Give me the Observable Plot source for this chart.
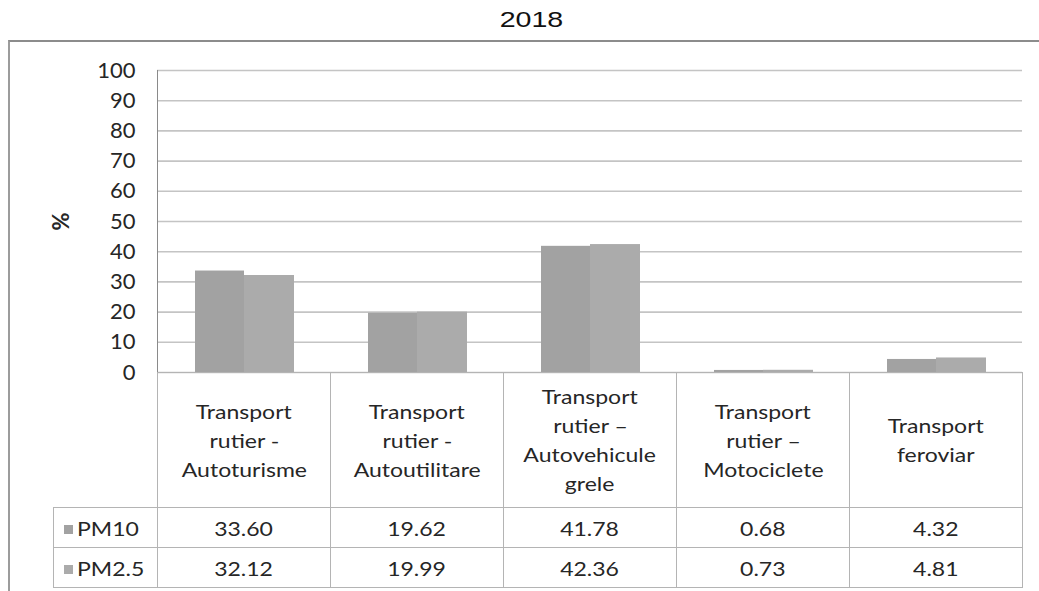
<!DOCTYPE html>
<html><head><meta charset="utf-8">
<script src="https://cdn.jsdelivr.net/npm/d3@7"></script>
<script src="https://cdn.jsdelivr.net/npm/@observablehq/plot@0.6"></script>
<style>
body{margin:0;background:#fff;font-family:Lato,"Open Sans",sans-serif;color:#262626;}
#wrap{position:relative;width:1039px;height:591px;overflow:hidden;background:#fff;}
#title{position:absolute;left:0;width:1062px;top:7px;text-align:center;font:22px "Liberation Sans",Arial,sans-serif;color:#111;}
#title span{display:inline-block;transform:scaleX(1.3);}
#frame{position:absolute;left:8px;top:40px;width:1100px;height:600px;border-left:2px solid #9c9c9c;border-top:2px solid #8c8c8c;}
#chart{position:absolute;left:0;top:41px;}
#tbl{position:absolute;left:53px;top:372px;border-collapse:collapse;table-layout:fixed;font-size:20px;}
#tbl td{border:1px solid #b4b4b4;text-align:center;padding:0;}
#tbl td.blank{border:none;}
#tbl tr.hdr td{height:134px;line-height:29px;vertical-align:middle;}
#tbl tr.val td{height:39px;}
#tbl .s{display:inline-block;transform:scaleX(1.15);}
#tbl td.leg{text-align:left;padding-left:10px;white-space:nowrap;}
#tbl td.leg .sw{display:inline-block;width:9px;height:9px;margin-right:4px;vertical-align:middle;position:relative;top:-1px;}
#tbl td.leg .s{transform-origin:left center;}
</style>
</head><body>
<div id="wrap">
  <div id="title"></div>
  <div id="frame"></div>
  <div id="chart"></div>
  <table id="tbl"></table>
</div>
<script>
const title = "2018";
const categories = [
  "Transport rutier - Autoturisme",
  "Transport rutier - Autoutilitare",
  "Transport rutier – Autovehicule grele",
  "Transport rutier – Motociclete",
  "Transport feroviar"
];
const categoryLines = [
  ["Transport", "rutier -", "Autoturisme"],
  ["Transport", "rutier -", "Autoutilitare"],
  ["Transport", "rutier –", "Autovehicule", "grele"],
  ["Transport", "rutier –", "Motociclete"],
  ["Transport", "feroviar"]
];
const seriesNames = ["PM10", "PM2.5"];
const pm10 = [33.60, 19.62, 41.78, 0.68, 4.32];
const pm25 = [32.12, 19.99, 42.36, 0.73, 4.81];
const yTicks = [0, 10, 20, 30, 40, 50, 60, 70, 80, 90, 100];
const yLabel = "%";
const colors = ["#a2a2a2", "#ababab"];

document.getElementById("title").innerHTML = `<span>${title}</span>`;

const rows = categories.map((c, i) => ({cat: c, pm10: pm10[i], pm25: pm25[i]}));

const chart = Plot.plot({
  width: 1039,
  height: 346,
  marginTop: 29,
  marginBottom: 15,
  marginLeft: 157,
  marginRight: 17,
  style: {fontFamily: "Lato, 'Open Sans', sans-serif", color: "#262626", background: "transparent"},
  x: {type: "band", domain: categories, padding: 0, axis: null},
  y: {domain: [0, 100]},
  marks: [
    Plot.gridY(yTicks, {stroke: "#c4c4c4", strokeOpacity: 1, strokeWidth: 1.6}),
    Plot.barY(rows, {x: "cat", y: "pm10", fill: colors[0], insetLeft: 38, insetRight: 86}),
    Plot.barY(rows, {x: "cat", y: "pm25", fill: colors[1], insetLeft: 87, insetRight: 36}),
    Plot.frame({anchor: "left", stroke: "#8a8a8a"}),
    Plot.axisY(yTicks, {tickSize: 0, tickPadding: 22, fontSize: 22, label: yLabel, labelAnchor: "center", labelOffset: 104, labelArrow: "none"})
  ]
});
d3.select(chart).selectAll("g[aria-label='y-axis label'] text")
  .attr("font-size", 22).attr("font-weight", "bold");
document.getElementById("chart").appendChild(chart);

// data table below the chart
const tbl = document.getElementById("tbl");
let html = `<colgroup><col style="width:104px">${categories.map(() => '<col style="width:173px">').join("")}</colgroup>`;
html += `<tr class="hdr"><td class="blank"></td>${categoryLines.map(ls => `<td>${ls.map(l => `<span class="s">${l}</span>`).join("<br>")}</td>`).join("")}</tr>`;
[pm10, pm25].forEach((vals, si) => {
  html += `<tr class="val"><td class="leg"><span class="sw" style="background:${colors[si]}"></span><span class="s">${seriesNames[si]}</span></td>${vals.map(v => `<td><span class="s">${v.toFixed(2)}</span></td>`).join("")}</tr>`;
});
tbl.innerHTML = html;
</script>
</body></html>
